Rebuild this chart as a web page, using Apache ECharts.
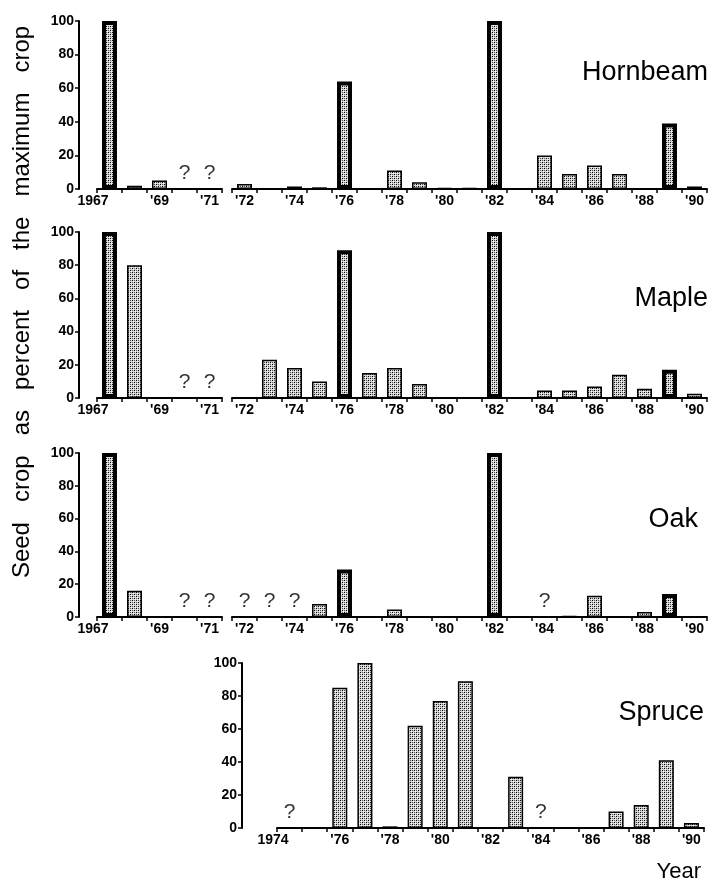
<!DOCTYPE html>
<html>
<head>
<meta charset="utf-8">
<script src="https://cdn.jsdelivr.net/npm/echarts@6/dist/echarts.min.js"></script>
<style>
  html, body { margin: 0; padding: 0; background: #fff; }
  #chart { width: 713px; height: 883px; }
</style>
</head>
<body>
<div id="chart"></div>
<script>
// categories
const yearsA = ['1967', '1968', '1969', '1970', '1971'];
const yearsB = ['1972', '1973', '1974', '1975', '1976', '1977', '1978', '1979', '1980', '1981',
  '1982', '1983', '1984', '1985', '1986', '1987', '1988', '1989', '1990'];
const yearsSpruce = ['1974', '1975', '1976', '1977', '1978', '1979', '1980', '1981', '1982',
  '1983', '1984', '1985', '1986', '1987', '1988', '1989', '1990'];

// tick labels
const labelsA = ['1967', '', "'69", '', "'71"];
const labelsB = ["'72", '', "'74", '', "'76", '', "'78", '', "'80", '', "'82", '', "'84", '', "'86", '', "'88", '', "'90"];
const labelsSpruce = ['1974', '', "'76", '', "'78", '', "'80", '', "'82", '', "'84", '', "'86", '', "'88", '', "'90"];
const yTicks = [0, 20, 40, 60, 80, 100];

// percent of maximum crop, null = unknown (?)
const hornbeamA = [100, 2, 5, null, null];
const hornbeamB = [3, 0, 1.5, 1, 64, 0, 11, 4, 0.5, 0.5, 100, 0, 20, 9, 14, 9, 0, 39, 1.5];
const mapleA = [100, 80, 0, null, null];
const mapleB = [0, 23, 18, 10, 89, 15, 18, 8.5, 0, 0, 100, 0, 4.5, 4.5, 7, 14, 5.5, 17, 2.5];
const oakA = [100, 16, 0, null, null];
const oakB = [null, null, null, 8, 29, 0, 4.5, 0, 0, 0, 100, 0, null, 0.5, 13, 0, 3, 14, 0];
const spruce = [null, 0, 85, 100, 1, 62, 77, 89, 0, 31, null, 0, 0, 10, 14, 41, 3];

// mast years drawn with heavy outline
const mastHornbeam = ['1967', '1976', '1982', '1989'];
const mastMaple = ['1967', '1976', '1982', '1989'];
const mastOak = ['1967', '1976', '1982', '1989'];
const mastSpruce = [];

const chart = echarts.init(document.getElementById('chart'));

function stipple() {
  const c = document.createElement('canvas');
  c.width = 4;
  c.height = 4;
  const g = c.getContext('2d');
  g.fillStyle = '#d4d4d4';
  g.fillRect(0, 0, 4, 4);
  g.fillStyle = '#000';
  g.fillRect(0, 0, 1, 1);
  g.fillRect(2, 2, 1, 1);
  g.fillStyle = '#5a5a5a';
  g.fillRect(2, 0, 1, 1);
  g.fillRect(0, 2, 1, 1);
  g.fillStyle = '#fff';
  g.fillRect(1, 1, 1, 1);
  g.fillRect(3, 3, 1, 1);
  return c;
}
const fill = { image: stipple(), repeat: 'repeat' };

const tickFont = { fontFamily: 'Liberation Sans', fontWeight: 'bold', fontSize: 14, color: '#000' };

const grids = [];
const xAxes = [];
const yAxes = [];
const series = [];

function addPanel(left, top, width, height, cats, labels, values, mast, yOffset) {
  const idx = grids.length;
  grids.push({ left: left, top: top, width: width, height: height });
  xAxes.push({
    type: 'category',
    gridIndex: idx,
    data: cats,
    axisLine: { lineStyle: { color: '#000', width: 2 } },
    axisTick: { show: true, interval: 0, length: 4, lineStyle: { color: '#000', width: 1.5 } },
    axisLabel: {
      interval: 0,
      margin: 5,
      ...tickFont,
      formatter: function (v, i) {
        const t = labels[i];
        return t.length === 4 ? '{full|' + t + '}' : t;
      },
      rich: { full: { ...tickFont, padding: [0, 33, 0, 0] } }
    }
  });
  yAxes.push({
    type: 'value',
    gridIndex: idx,
    min: 0,
    max: 100,
    interval: 20,
    show: yOffset !== null,
    offset: yOffset || 0,
    splitLine: { show: false },
    axisLine: { show: true, lineStyle: { color: '#000', width: 2 } },
    axisTick: { show: true, length: 4, lineStyle: { color: '#000', width: 1.5 } },
    axisLabel: {
      margin: 5,
      ...tickFont,
      formatter: function (v) { return yTicks.indexOf(v) >= 0 ? String(v) : ''; }
    }
  });
  series.push({
    type: 'bar',
    xAxisIndex: idx,
    yAxisIndex: idx,
    barWidth: 15,
    silent: true,
    animation: false,
    data: values.map(function (v, i) {
      if (v === null) return '-';
      const heavy = mast.indexOf(cats[i]) >= 0;
      return {
        value: v,
        itemStyle: { color: fill, borderColor: '#000', borderWidth: heavy ? 4 : 1.5 }
      };
    })
  });
  series.push({
    type: 'scatter',
    xAxisIndex: idx,
    yAxisIndex: idx,
    symbolSize: 0,
    silent: true,
    animation: false,
    data: values.map(function (v, i) { return v === null ? [cats[i], 0] : null; })
      .filter(function (d) { return d !== null; }),
    label: {
      show: true,
      position: 'top',
      distance: 5,
      formatter: '?',
      fontFamily: 'Liberation Sans',
      fontSize: 21,
      color: '#000'
    }
  });
}

addPanel(97, 21, 125, 168, yearsA, labelsA, hornbeamA, mastHornbeam, 18);
addPanel(232, 21, 475, 168, yearsB, labelsB, hornbeamB, mastHornbeam, null);
addPanel(97, 232, 125, 166, yearsA, labelsA, mapleA, mastMaple, 18);
addPanel(232, 232, 475, 166, yearsB, labelsB, mapleB, mastMaple, null);
addPanel(97, 453, 125, 164, yearsA, labelsA, oakA, mastOak, 18);
addPanel(232, 453, 475, 164, yearsB, labelsB, oakB, mastOak, null);
addPanel(277, 663, 427, 165, yearsSpruce, labelsSpruce, spruce, mastSpruce, 35);

const nameFont = '27px "Liberation Sans"';

const option = {
  backgroundColor: '#fff',
  animation: false,
  grid: grids,
  xAxis: xAxes,
  yAxis: yAxes,
  series: series,
  graphic: [
    { type: 'text', x: 708, y: 73, style: { text: 'Hornbeam', font: nameFont, fill: '#000', align: 'right', verticalAlign: 'middle' } },
    { type: 'text', x: 708, y: 299, style: { text: 'Maple', font: nameFont, fill: '#000', align: 'right', verticalAlign: 'middle' } },
    { type: 'text', x: 698, y: 520, style: { text: 'Oak', font: nameFont, fill: '#000', align: 'right', verticalAlign: 'middle' } },
    { type: 'text', x: 704, y: 713, style: { text: 'Spruce', font: nameFont, fill: '#000', align: 'right', verticalAlign: 'middle' } },
    { type: 'text', x: 701, y: 872, style: { text: 'Year', font: '22px "Liberation Sans"', fill: '#000', align: 'right', verticalAlign: 'middle' } },
    {
      type: 'text', x: 22, y: 302, rotation: Math.PI / 2,
      style: {
        text: 'Seed   crop   as   percent   of   the   maximum   crop',
        font: '24px "Liberation Sans"', fill: '#000', align: 'center', verticalAlign: 'middle'
      }
    }
  ]
};

chart.setOption(option);
</script>
</body>
</html>
